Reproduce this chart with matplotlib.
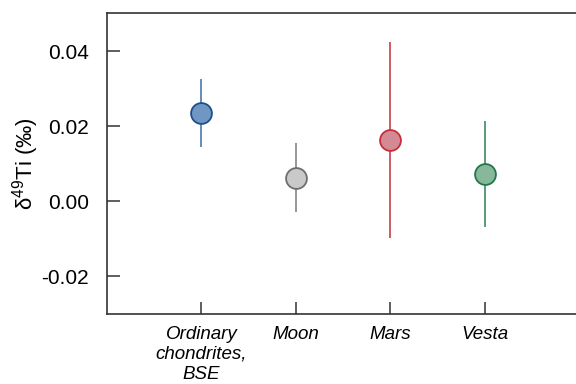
import matplotlib
matplotlib.use("Agg")
import matplotlib.pyplot as plt

plt.rcParams['font.family'] = ['Liberation Sans', 'DejaVu Sans']
plt.rcParams['mathtext.fontset'] = 'custom'
plt.rcParams['mathtext.rm'] = 'Liberation Sans'

# Bodies and their delta-49Ti values with uncertainties
bodies = ['Ordinary\nchondrites,\nBSE', 'Moon', 'Mars', 'Vesta']
delta49 = [0.0235, 0.0063, 0.0162, 0.0073]
err = [0.0091, 0.0092, 0.0261, 0.0142]
fills = ['#7096c4', '#c9c9c9', '#d48a94', '#87b89a']
edges = ['#1d4f8e', '#6e6e6e', '#c42f3b', '#23784a']
lines = ['#4a78b0', '#858585', '#c8404a', '#3d8a5e']

fig = plt.figure(figsize=(5.76, 3.84), dpi=100)
ax = fig.add_axes([0.1858, 0.1823, 0.82, 0.7827])

xs = range(1, len(bodies) + 1)
for x, y, e, fc, ec, lc in zip(xs, delta49, err, fills, edges, lines):
    ax.errorbar(x, y, yerr=e, fmt='none', ecolor=lc, elinewidth=1.2, zorder=2)
    ax.plot(x, y, 'o', ms=15, mfc=fc, mec=ec, mew=1.3, zorder=3)

ax.set_xlim(0, 5)
ax.set_ylim(-0.03, 0.05)
ax.set_xticks(list(xs))
ax.set_xticklabels(bodies, fontstyle='italic', fontsize=13.5, linespacing=1.22)
ax.set_yticks([-0.02, 0.0, 0.02, 0.04])
ax.set_yticklabels(['-0.02', '0.00', '0.02', '0.04'], fontsize=15)
ax.set_ylabel(r'δ$^{49}$Ti (‰)', fontsize=16, labelpad=0)

ax.tick_params(axis='both', direction='in', length=9, width=1.1, color='#333333')
ax.tick_params(axis='x', pad=8.5)
ax.tick_params(axis='y', pad=13)
for side in ['left', 'bottom', 'top', 'right']:
    ax.spines[side].set_linewidth(1.2)
    ax.spines[side].set_color('#333333')

fig.savefig('out.png', dpi=100)
